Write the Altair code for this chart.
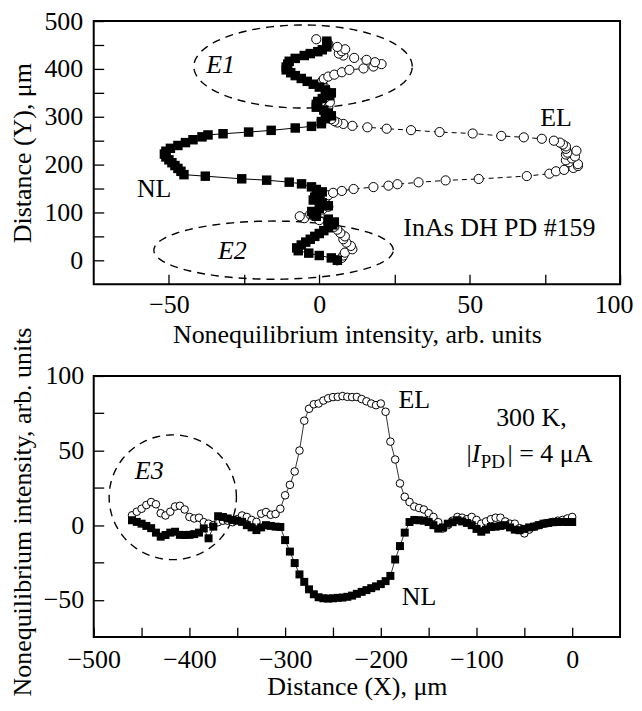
import altair as alt
import pandas as pd
import numpy as np

FONT = "Liberation Serif"

# ---------------- Top panel data: distance Y (um) vs intensity ----------------
top_el_y = [0, 5, 10, 16, 23, 30, 37, 44, 50, 57, 64, 70, 77, 84, 88, 92, 96, 100, 106, 112,
            118, 124, 130, 136, 141, 145, 149, 153, 156, 159, 163, 167, 170, 176, 181, 186, 189, 193, 197, 201,
            205, 209, 213, 217, 221, 225, 229, 233, 238, 242, 246, 250, 254, 257, 260, 265, 268, 272, 275, 278,
            281, 285, 288, 291, 295, 300, 310, 320, 330, 340, 350, 360, 368, 375, 379, 384, 388, 393, 398, 401,
            405, 410, 414, 419, 423, 428, 432, 437, 441, 446, 452, 462]
top_el_v = [6, 7.5, 8, 8.5, 11, 10.5, 9, 8, 8.5, 7, 6, 5, 3, 0, -5, -6.5, -3, -1, 1, 3,
            2, 1, 2, 3, 4.6, 7.5, 11.4, 18, 23, 26, 33, 42, 53, 69, 76.5, 78.7, 81.4, 84.5, 86, 86,
            83, 82, 84, 85, 82, 82.5, 85.5, 82, 82, 81, 80, 78, 74, 68, 60.5, 51, 40, 30.5, 22.4, 16,
            11, 8, 6, 5, 4, 3, 2.5, 3, 3.5, 2, 3, 2, 1, 1, 1.5, 3, 5, 7.5, 10, 14.7,
            18, 20.7, 18.5, 15.7, 11.6, 8, 6.5, 7.5, 8.6, 6, 3, -1]

top_nl_y = [0, 5, 10, 15, 20, 26, 32, 38, 44, 50, 56, 62, 68, 74, 80, 86, 92, 97, 102, 108,
            114, 120, 126, 132, 138, 143, 148, 153.5, 159.8, 163.3, 167.5, 170.3, 175.8, 179, 186, 192, 198, 204, 210, 216,
            222, 228, 234, 240, 246, 252, 258, 262, 264.5, 268, 271.6, 276.5, 280, 285.5, 290, 296, 302, 308, 314, 320,
            326, 332, 338, 344, 350, 356, 362, 368, 374, 380, 386, 392, 398, 404, 410, 416, 422, 428, 432, 436,
            440, 446, 452, 458]
top_nl_v = [6, 4, 0, -3.5, -7, -7.5, -6, -4.5, -3, -1.5, 0, 1.5, 3, 4.5, 5, 3, -1, -2, -2.5, 0,
            3, 1, -2, -1.5, 0, 1, -1, -2.6, -5.9, -10, -17.5, -25.8, -37.9, -45, -46, -47, -48, -49, -50, -51,
            -51.5, -51, -49.5, -47, -44.5, -42, -39, -37, -32, -23.5, -16, -8, -2.6, 0.7, 0.7, 2, 4, 3, 1.5, -1,
            -1, -0.5, 1, 3.5, 4, 2, 0, -2, -4, -6, -8, -9.5, -11, -11, -10.5, -10, -8, -5, -3, -0.5,
            1, 2.5, 2.5, 2.5]

# ---------------- Bottom panel data: distance X (um) vs intensity ----------------
bot_x = [-460, -455, -450, -445, -440, -435, -430, -425, -420, -415,
         -410, -405, -400, -395, -390, -385, -380, -375, -370, -365,
         -360, -355, -350, -345, -340, -335, -330, -325, -320, -315,
         -310, -305, -300, -295, -290, -285, -280, -275, -270, -265,
         -260, -255, -250, -245, -240, -235, -230, -225, -220, -215,
         -210, -205, -200, -195, -190, -185, -180, -175, -170, -165,
         -160, -155, -150, -145, -140, -135, -130, -125, -120, -115,
         -110, -105, -100, -95, -90, -85, -80, -75, -70, -65,
         -60, -55, -50, -45, -40, -35, -30, -25, -20, -15,
         -10, -5, 0]
bot_el = [6.6, 9, 11, 13.5, 15.5, 14, 8, 6.5, 9, 12.5,
          13, 10.5, 5.5, 4.5, 5, 2, 1, 0, 2, 3,
          3, 2, 4, 6.5, 5.5, 3.5, 2.2, 7.7, 8.8, 7,
          7.5, 11, 20, 27, 36, 50, 70, 78, 81, 81.5,
          83.5, 85, 85.8, 86, 86.5, 86, 85.8, 85.9, 84.5, 83,
          81.5, 80.4, 81.5, 76, 56, 44, 28, 19, 15.5, 12.5,
          11.5, 10.5, 8, 5.5, 2, -2.2, 0, 3, 5.5, 5,
          4, 5.5, 3.5, 1, 2.5, 4, 5, 5, 2.5, 1,
          1, -2, -5.5, -3, -1, 0, 1, 1.5, 2.2, 3,
          3.5, 4.5, 5.5]
bot_nl = [3.3, 2.2, 1, -0.5, -2, -5, -7.7, -6.6, -5, -4.4,
          -6.5, -6.6, -6.5, -6, -5, -2.2, -8.8, -1, 6, 5.5,
          4.5, 3.5, 3, 2.2, 0, -1.5, -3.3, -1.5, 0, -0.5,
          -1, -1.2, -10, -17.7, -25.4, -33, -38, -43, -46.3, -48.3,
          -49, -49.2, -49, -48.7, -48.5, -48, -47.2, -46, -44.7, -43.5,
          -42.2, -41, -39.5, -37.5, -34, -23, -14, -5, 2.1, 3.5,
          3.3, 3, 2.1, 0, -2.3, -1.5, 1, 2, 3.3, 2.5,
          1.5, 0, -2.5, -4.4, -3, -1.2, -1, -0.5, 0, -1.5,
          -3, -3.4, -2.5, -1.5, -1, 0, 1, 1.5, 2, 2.1,
          2.2, 2.1, 2.1]

# ---------------- Annotation ellipses (centre, semi-axes in data units) ----------------
top_ellipses = {"E1": (-5.4, 405, 36.3, 86.8), "E2": (-15.2, 21.2, 39.8, 60.8)}
bot_ellipses = {"E3": (-417.4, 18.7, 66.5, 41.8)}

# ---------------- Axis tick values ----------------
top_x_ticks = [-50, -25, 0, 25, 50, 75, 100]
top_y_ticks = [0, 50, 100, 150, 200, 250, 300, 350, 400, 450, 500]
bot_x_ticks = [-500, -450, -400, -350, -300, -250, -200, -150, -100, -50, 0]
bot_y_ticks = [-50, -25, 0, 25, 50, 75, 100]


def ellipse_df(spec, xf, yf):
    rows = []
    t = np.linspace(0, 2 * np.pi, 145)
    for name, (cx, cy, rx, ry) in spec.items():
        for i, tt in enumerate(t):
            rows.append({xf: cx + rx * np.cos(tt), yf: cy + ry * np.sin(tt), "i": i, "name": name})
    return pd.DataFrame(rows)


def axis(values, step, title, pad, tpad, flush=False, **kw):
    return alt.Axis(values=values, labelExpr=f"datum.value % {step} == 0 ? datum.label : ''",
                    title=title, offset=-10, tickSize=10, domain=False, grid=False,
                    labelPadding=pad, titlePadding=tpad, labelFlush=flush, labelOverlap=False,
                    tickColor="black", tickWidth=1.3, labelColor="black", titleColor="black",
                    labelFont=FONT, titleFont=FONT, labelFontSize=26, titleFontSize=26,
                    titleFontWeight="normal", **kw)


W = 528

# ---------------- Top panel ----------------
tx = alt.X("v:Q", scale=alt.Scale(domain=[-75, 100], nice=False, zero=False),
           axis=axis(top_x_ticks, 50, "Nonequilibrium intensity, arb. units", 7, 4,
                     flush=True, labelFlushOffset=13))
ty = alt.Y("Y:Q", scale=alt.Scale(domain=[-50, 500], nice=False, zero=False),
           axis=axis(top_y_ticks, 100, "Distance (Y), μm", 11, 8))

el_t = pd.DataFrame({"Y": top_el_y, "v": top_el_v})
nl_t = pd.DataFrame({"Y": top_nl_y, "v": top_nl_v})

t_el_line = alt.Chart(el_t).mark_line(color="black", strokeWidth=1, strokeDash=[5, 4]).encode(x=tx, y=ty, order="Y:Q")
t_el_pts = alt.Chart(el_t).mark_circle(fill="white", stroke="black", strokeWidth=1, size=85, opacity=1).encode(x=tx, y=ty)
t_nl_line = alt.Chart(nl_t).mark_line(color="black", strokeWidth=1).encode(x=tx, y=ty, order="Y:Q")
t_nl_pts = alt.Chart(nl_t).mark_square(color="black", size=90, opacity=1).encode(x=tx, y=ty)
t_ell = alt.Chart(ellipse_df(top_ellipses, "v", "Y")).mark_line(
    color="black", strokeWidth=1.4, strokeDash=[8, 6]).encode(x=tx, y=ty, detail="name:N", order="i:Q")

t_txt = pd.DataFrame({"v": [-54.9, 78.7, 59.9], "Y": [148, 297, 68], "t": ["NL", "EL", "InAs DH PD #159"]})
t_lbl = alt.Chart(t_txt).mark_text(font=FONT, fontSize=26, color="black", baseline="middle").encode(x=tx, y=ty, text="t:N")
t_itxt = pd.DataFrame({"v": [-32.8, -28.9], "Y": [408, 19.6], "t": ["E1", "E2"]})
t_ilbl = alt.Chart(t_itxt).mark_text(font=FONT, fontSize=26, fontStyle="italic", color="black",
                                     baseline="middle").encode(x=tx, y=ty, text="t:N")

top = alt.layer(t_ell, t_el_line, t_el_pts, t_nl_line, t_nl_pts, t_lbl, t_ilbl).properties(width=W, height=264)

# ---------------- Bottom panel ----------------
bx = alt.X("X:Q", scale=alt.Scale(domain=[-500, 50], nice=False, zero=False),
           axis=axis(bot_x_ticks, 100, "Distance (X), μm", 10, 1))
by = alt.Y("v:Q", scale=alt.Scale(domain=[-75, 100], nice=False, zero=False),
           axis=axis(bot_y_ticks, 50, "Nonequilibrium intensity, arb. units", 10, 8, titleY=136))

bdf = pd.DataFrame({"X": bot_x, "EL": bot_el, "NL": bot_nl})
el_b = bdf.rename(columns={"EL": "v"})[["X", "v"]]
nl_b = bdf.rename(columns={"NL": "v"})[["X", "v"]]

b_el_line = alt.Chart(el_b).mark_line(color="black", strokeWidth=0.8).encode(x=bx, y=by)
b_el_pts = alt.Chart(el_b).mark_circle(fill="white", stroke="black", strokeWidth=1, size=58, opacity=1).encode(x=bx, y=by)
b_nl_line = alt.Chart(nl_b).mark_line(color="black", strokeWidth=0.8).encode(x=bx, y=by)
b_nl_pts = alt.Chart(nl_b).mark_square(color="black", size=64, opacity=1).encode(x=bx, y=by)
b_ell = alt.Chart(ellipse_df(bot_ellipses, "X", "v")).mark_line(
    color="black", strokeWidth=1.4, strokeDash=[8, 6]).encode(x=bx, y=by, detail="name:N", order="i:Q")

b_txt = pd.DataFrame({"X": [-165, -160, -42.6], "v": [83.7, -48.4, 71.6], "t": ["EL", "NL", "300 K,"]})
b_lbl = alt.Chart(b_txt).mark_text(font=FONT, fontSize=26, color="black", baseline="middle").encode(x=bx, y=by, text="t:N")
b_itxt = pd.DataFrame({"X": [-442], "v": [36.4], "t": ["E3"]})
b_ilbl = alt.Chart(b_itxt).mark_text(font=FONT, fontSize=26, fontStyle="italic", color="black",
                                     baseline="middle").encode(x=bx, y=by, text="t:N")
# |I_PD| = 4 uA built from pieces
b_c1 = alt.Chart(pd.DataFrame({"X": [-110.5], "v": [47.6], "t": ["|"]})).mark_text(
    font=FONT, fontSize=26, color="black", baseline="middle", align="left").encode(x=bx, y=by, text="t:N")
b_c2 = alt.Chart(pd.DataFrame({"X": [-105], "v": [47.6], "t": ["I"]})).mark_text(
    font=FONT, fontSize=26, fontStyle="italic", color="black", baseline="middle", align="left").encode(x=bx, y=by, text="t:N")
b_c3 = alt.Chart(pd.DataFrame({"X": [-95.5], "v": [42.5], "t": ["PD"]})).mark_text(
    font=FONT, fontSize=19, color="black", baseline="middle", align="left").encode(x=bx, y=by, text="t:N")
b_c4 = alt.Chart(pd.DataFrame({"X": [-67.5], "v": [47.6], "t": ["| = 4 μA"]})).mark_text(
    font=FONT, fontSize=26, color="black", baseline="middle", align="left").encode(x=bx, y=by, text="t:N")

bottom = alt.layer(b_ell, b_el_line, b_el_pts, b_nl_line, b_nl_pts, b_lbl, b_ilbl,
                   b_c1, b_c2, b_c3, b_c4).properties(width=W, height=262)

chart = alt.vconcat(top, bottom, spacing=92, bounds="flush").properties(
    padding={"left": 0, "top": -2, "right": 0, "bottom": 0}, background="white"
).configure_view(stroke="black", strokeWidth=2)

chart.save("out.html", embed_options={"renderer": "svg", "actions": False})
